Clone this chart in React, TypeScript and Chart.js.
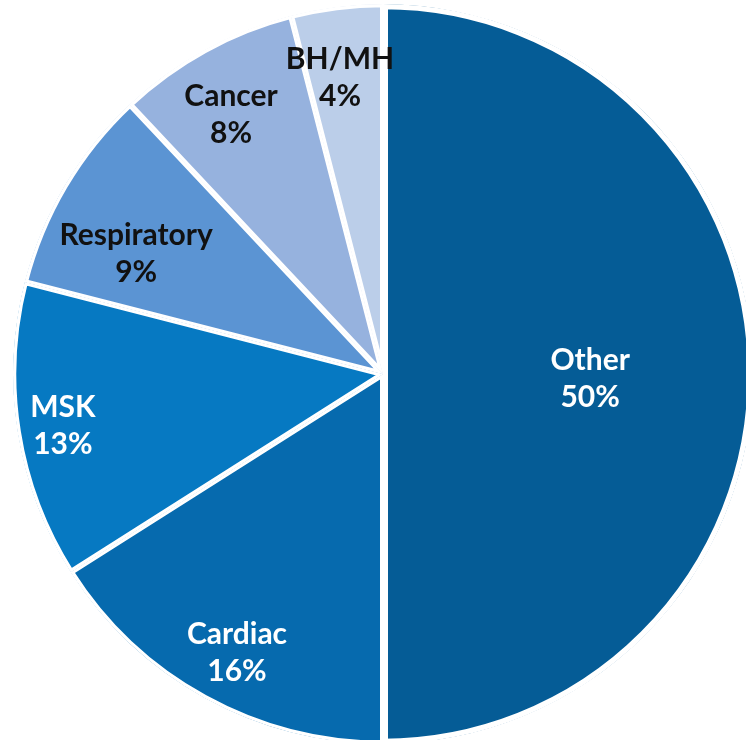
import React, { useEffect, useRef } from "react";
import { Chart, registerables } from "chart.js";

Chart.register(...registerables);

// ---- data ----
const categories = ["Other", "Cardiac", "MSK", "Respiratory", "Cancer", "BH/MH"];
const shares = [50, 16, 13, 9, 8, 4];
const percentLabels = ["50%", "16%", "13%", "9%", "8%", "4%"];

// ---- styles ----
const sliceColors = ["#055C96", "#066AAE", "#0679C2", "#5B94D3", "#96B2DE", "#BBCEE9"];
const labelColors = ["#FFFFFF", "#FFFFFF", "#FFFFFF", "#111111", "#111111", "#111111"];
const sliceBorderWidths = [5, 3, 3, 3, 3, 3];
const labelRadiusFraction = [0.56, 0.849, 0.876, 0.743, 0.814, 0.81];
const labelAngleShiftDeg = [1.1, -1.1, 0, -4.5, -1.5, -1.05];
const LABEL_FONT = "bold 30px Lato";
const LINE_GAP = 37;
const CAP_HEIGHT = 21;

const labelPlugin = {
  id: "sliceLabels",
  afterDatasetsDraw(chart: any) {
    const ctx = chart.ctx as CanvasRenderingContext2D;
    const meta = chart.getDatasetMeta(0);
    meta.data.forEach((arc: any, i: number) => {
      const { x, y, startAngle, endAngle, outerRadius } = arc.getProps(
        ["x", "y", "startAngle", "endAngle", "outerRadius"],
        true
      );
      const mid = (startAngle + endAngle) / 2 + (labelAngleShiftDeg[i] * Math.PI) / 180;
      const r = outerRadius * labelRadiusFraction[i];
      const lx = x + Math.cos(mid) * r;
      const ly = y + Math.sin(mid) * r;
      ctx.save();
      ctx.font = LABEL_FONT;
      ctx.fillStyle = labelColors[i];
      ctx.textAlign = "center";
      ctx.textBaseline = "alphabetic";
      const base1 = ly - (LINE_GAP - CAP_HEIGHT) / 2;
      ctx.fillText(categories[i], lx, base1);
      ctx.fillText(percentLabels[i], lx, base1 + LINE_GAP);
      ctx.restore();
    });
  },
};

export default function App() {
  const canvasRef = useRef<HTMLCanvasElement | null>(null);

  useEffect(() => {
    if (!canvasRef.current) return;
    const chart = new Chart(canvasRef.current, {
      type: "pie",
      data: {
        labels: categories,
        datasets: [
          {
            data: shares,
            backgroundColor: sliceColors,
            borderColor: "#FFFFFF",
            borderWidth: sliceBorderWidths,
            borderAlign: "inner",
          },
        ],
      },
      options: {
        responsive: false,
        animation: false,
        radius: 370,
        layout: { padding: 0 },
        plugins: {
          legend: { display: false },
          tooltip: { enabled: false },
        },
      },
      plugins: [labelPlugin],
    });
    return () => chart.destroy();
  }, []);

  return (
    <div
      style={{
        position: "fixed",
        left: 0,
        top: 0,
        width: 746,
        height: 740,
        overflow: "hidden",
        background: "#FFFFFF",
      }}
    >
      <canvas
        ref={canvasRef}
        width={766}
        height={748}
        style={{ position: "absolute", left: 0, top: 0, width: 766, height: 748 }}
      />
    </div>
  );
}
